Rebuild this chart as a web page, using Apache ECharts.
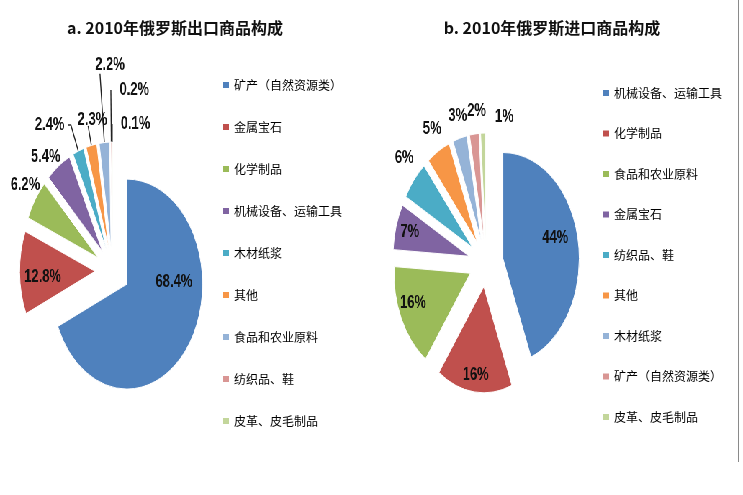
<!DOCTYPE html>
<html>
<head>
<meta charset="utf-8">
<script src="https://cdn.jsdelivr.net/npm/echarts@6/dist/echarts.min.js"></script>
<style>
html,body{margin:0;padding:0;background:#fff;overflow:hidden}
#wrap{position:relative;width:743px;height:495px}
#pies{position:absolute;left:0;top:0;height:495px;transform-origin:0 0;background:#fff}
#main{position:absolute;left:0;top:0;width:743px;height:495px}
</style>
</head>
<body>
<div id="wrap"><div id="pies"></div><div id="main"></div></div>
<script>
// ---- data ----
const exportTitle = 'a. 2010年俄罗斯出口商品构成';
const importTitle = 'b. 2010年俄罗斯进口商品构成';
const exportNames = ['矿产（自然资源类）','金属宝石','化学制品','机械设备、运输工具','木材纸浆','其他','食品和农业原料','纺织品、鞋','皮革、皮毛制品'];
const exportValues = [68.4, 12.8, 6.2, 5.4, 2.4, 2.3, 2.2, 0.2, 0.1];
const importNames = ['机械设备、运输工具','化学制品','食品和农业原料','金属宝石','纺织品、鞋','其他','木材纸浆','矿产（自然资源类）','皮革、皮毛制品'];
const importValues = [44, 16, 16, 7, 6, 5, 3, 2, 1];
const palette = ['#4F81BD','#C0504D','#9BBB59','#8064A2','#4BACC6','#F79646','#95B3D7','#D99694','#C3D69B'];

// ---- layout / style ----
// The reference pies are oval (narrower than tall): the pie layer is squashed horizontally.
const K = 0.72;
const PW = Math.round(743 / K);
const piesEl = document.getElementById('pies');
piesEl.style.width = PW + 'px';
piesEl.style.transform = 'scaleX(' + (743 / PW) + ')';

// label placement per slice (len: radial label-line length, negative = inside the slice)
const exportLabelStyle = [
  {len:-39, align:'center', dx:5, dy:-38},
  {len:-32, align:'center', dx:5, dy:5},
  {len:10, align:'center', va:'bottom'},
  {len:6, align:'center', va:'bottom', dx:-9, dy:5},
  {len:28, len2:4, line:true},
  {len:20, line:true, align:'center', va:'bottom', dx:11, dy:3},
  {len:69, line:true, align:'center', va:'bottom', dx:19},
  {len:52, line:true, align:'left', dx:17},
  {len:18, line:true, align:'left', dx:17}
];
const importLabelStyle = [
  {len:-31, align:'center', dx:-6, dy:-6},
  {len:-17, align:'center', dx:5},
  {len:-18, align:'center', dx:5, dy:-8},
  {len:-20, align:'center', dx:5},
  {len:20, align:'center', va:'bottom', dx:7},
  {len:15, align:'center', va:'bottom', dx:4},
  {len:14, align:'center', va:'bottom', dx:6},
  {len:14, align:'center', va:'bottom', dx:10},
  {len:16, align:'left', dx:22}
];

function pieSeries(names, values, cx, cy, r, styles) {
  return {
    type: 'pie',
    center: [cx, cy],
    radius: r,
    startAngle: 90,
    clockwise: true,
    selectedMode: 'multiple',
    selectedOffset: 24,
    avoidLabelOverlap: false,
    silent: true,
    itemStyle: {borderColor: '#fff', borderWidth: 1},
    label: {
      show: true, formatter: '{c}%',
      fontFamily: 'Liberation Sans', fontWeight: 'bold', fontSize: 18, color: '#111'
    },
    labelLine: {lineStyle: {color: '#222', width: 1.4}},
    labelLayout: function (p) {
      const s = styles[p.dataIndex] || {};
      const o = {dx: s.dx || 0, dy: s.dy || 0};
      if (s.align) o.align = s.align;
      if (s.va) o.verticalAlign = s.va;
      return o;
    },
    data: values.map(function (v, i) {
      const s = styles[i];
      return {
        name: names[i], value: v, selected: true,
        itemStyle: {color: palette[i]},
        label: {position: 'outside'},
        labelLine: {show: !!s.line, length: s.len, length2: s.len2 || 0}
      };
    })
  };
}

const pies = echarts.init(piesEl, null, {renderer: 'canvas'});
pies.setOption({
  animation: false,
  backgroundColor: '#fff',
  series: [
    pieSeries(exportNames, exportValues, 112.5 / K, 271, 105, exportLabelStyle),
    pieSeries(importNames, importValues, 486 / K, 263, 106, importLabelStyle)
  ]
});

// ---- titles and legends (unsquashed layer) ----
const main = echarts.init(document.getElementById('main'), null, {renderer: 'canvas'});
const titleStyle = {fontFamily: 'Noto Sans CJK SC', fontWeight: 'bold', fontSize: 16, color: '#111'};
const legendText = {fontFamily: 'Noto Sans CJK SC', fontSize: 12, color: '#000', lineHeight: 14};
function legendData(names) {
  return names.map(function (n, i) { return {name: n, itemStyle: {color: palette[i]}}; });
}
function hiddenPie(names, values) {
  return {
    type: 'pie', radius: 0, center: [0, 0], silent: true,
    label: {show: false}, labelLine: {show: false},
    data: names.map(function (n, i) { return {name: n, value: values[i], itemStyle: {color: palette[i]}}; })
  };
}
main.setOption({
  animation: false,
  title: [
    {text: exportTitle, left: 175, top: 20, textAlign: 'center', padding: 0, textStyle: titleStyle},
    {text: importTitle, left: 552, top: 20, textAlign: 'center', padding: 0, textStyle: titleStyle}
  ],
  legend: [
    {data: legendData(exportNames), orient: 'vertical', left: 223, top: 78, padding: 0,
     itemGap: 28, itemWidth: 6, itemHeight: 6, icon: 'rect', selectedMode: false, textStyle: legendText},
    {data: legendData(importNames), orient: 'vertical', left: 603, top: 86, padding: 0,
     itemGap: 26.5, itemWidth: 6, itemHeight: 6, icon: 'rect', selectedMode: false, textStyle: legendText}
  ],
  graphic: [
    {type: 'line', shape: {x1: 738.5, y1: 0, x2: 738.5, y2: 462}, style: {stroke: '#8a8a8a', lineWidth: 1}, silent: true}
  ],
  series: [hiddenPie(exportNames, exportValues), hiddenPie(importNames, importValues)]
});
</script>
</body>
</html>
